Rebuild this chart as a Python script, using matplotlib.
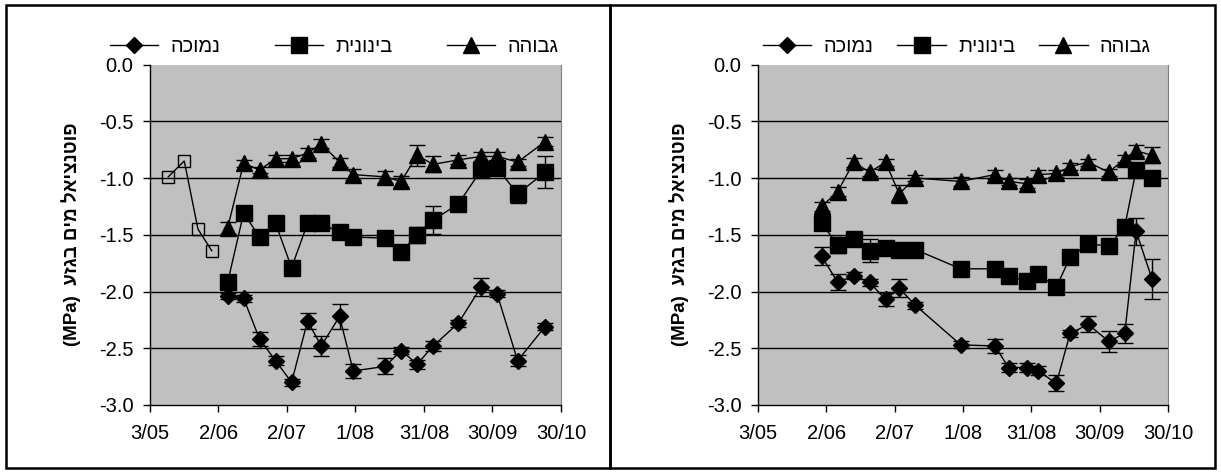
import matplotlib
matplotlib.use('Agg')
import matplotlib.pyplot as plt
from matplotlib.patches import Rectangle
from datetime import datetime

YEAR = 2005

# ---- data: left panel ----
left_dates = ["6/06", "13/06", "20/06", "27/06", "4/07", "11/07", "17/07", "25/07", "31/07",
              "14/08", "21/08", "28/08", "4/09", "15/09", "25/09", "2/10", "11/10", "23/10"]
left_high = [-1.44, -0.87, -0.93, -0.83, -0.83, -0.78, -0.70, -0.86, -0.97,
             -0.99, -1.03, -0.80, -0.88, -0.84, -0.81, -0.81, -0.86, -0.68]
left_high_err = [0.05, 0.03, 0.03, 0.03, 0.03, 0.04, 0.04, 0.04, 0.05,
                 0.05, 0.05, 0.09, 0.07, 0.04, 0.04, 0.04, 0.03, 0.04]
left_mid = [-1.92, -1.31, -1.52, -1.40, -1.79, -1.40, -1.40, -1.48, -1.52,
            -1.53, -1.65, -1.50, -1.37, -1.23, -0.93, -0.91, -1.14, -0.95]
left_mid_err = [0.03, 0.03, 0.03, 0.03, 0.03, 0.03, 0.03, 0.03, 0.03,
                0.03, 0.06, 0.07, 0.12, 0.03, 0.04, 0.04, 0.08, 0.14]
left_low = [-2.04, -2.06, -2.42, -2.61, -2.80, -2.26, -2.48, -2.22, -2.70,
            -2.66, -2.52, -2.64, -2.48, -2.28, -1.96, -2.02, -2.61, -2.31]
left_low_err = [0.03, 0.03, 0.06, 0.04, 0.03, 0.07, 0.09, 0.11, 0.06,
                0.07, 0.03, 0.04, 0.04, 0.03, 0.08, 0.03, 0.05, 0.03]
# early measurements (open squares)
early_dates = ["11/05", "18/05", "24/05", "30/05"]
early_vals = [-0.99, -0.85, -1.45, -1.64]

# ---- data: right panel ----
right_dates = ["31/05", "7/06", "14/06", "21/06", "28/06", "4/07", "11/07", "31/07", "15/08", "21/08",
               "29/08", "3/09", "11/09", "17/09", "25/09", "4/10", "11/10", "16/10", "23/10"]
right_high = [-1.25, -1.12, -0.86, -0.95, -0.86, -1.14, -1.00, -1.03, -0.97, -1.03,
              -1.05, -0.97, -0.96, -0.90, -0.86, -0.95, -0.83, -0.76, -0.80]
right_high_err = [0.04, 0.04, 0.04, 0.03, 0.03, 0.08, 0.03, 0.04, 0.04, 0.03,
                  0.04, 0.04, 0.03, 0.03, 0.03, 0.03, 0.03, 0.05, 0.07]
right_mid = [-1.40, -1.59, -1.54, -1.64, -1.62, -1.63, -1.63, -1.80, -1.80, -1.86,
             -1.91, -1.85, -1.96, -1.70, -1.58, -1.60, -1.43, -0.93, -1.00]
right_mid_err = [0.05, 0.07, 0.05, 0.10, 0.06, 0.05, 0.03, 0.03, 0.04, 0.05,
                 0.03, 0.03, 0.03, 0.03, 0.03, 0.03, 0.03, 0.03, 0.04]
right_low = [-1.69, -1.92, -1.86, -1.92, -2.07, -1.97, -2.12, -2.47, -2.48, -2.67,
             -2.67, -2.70, -2.81, -2.37, -2.29, -2.44, -2.37, -1.47, -1.89]
right_low_err = [0.08, 0.07, 0.03, 0.03, 0.06, 0.08, 0.03, 0.03, 0.06, 0.04,
                 0.04, 0.04, 0.07, 0.03, 0.07, 0.09, 0.08, 0.12, 0.18]

series_names = ["נמוכה", "בינונית", "גבוהה"]   # low, medium, high
x_ticks = ["3/05", "2/06", "2/07", "1/08", "31/08", "30/09", "30/10"]
y_ticks = [0.0, -0.5, -1.0, -1.5, -2.0, -2.5, -3.0]
y_label = "פוטנציאל מים בגזע"

FONT = ['Liberation Sans', 'DejaVu Sans']
plt.rcParams['font.family'] = FONT
plt.rcParams['axes.unicode_minus'] = False


def to_dates(labels):
    return [datetime.strptime(f"{s}/{YEAR}", "%d/%m/%Y") for s in labels]


def visual(s):
    # matplotlib has no bidi support: feed Hebrew in visual order
    return s[::-1]


W, H = 1221, 472
fig = plt.figure(figsize=(W / 100, H / 100), dpi=100)


def px_axes(x0, x1, y0, y1):
    return fig.add_axes([x0 / W, 1 - y1 / H, (x1 - x0) / W, (y1 - y0) / H])


def draw_series(ax, dates, vals, errs, marker, ms):
    cont = ax.errorbar(to_dates(dates), vals, yerr=errs, color='black', lw=1,
                       marker=marker, ms=ms, mfc='black', mec='black',
                       ecolor='black', elinewidth=1, capsize=5.5, capthick=1, zorder=3)
    return cont[0]


def style_axes(ax):
    ax.set_facecolor('#C0C0C0')
    ax.set_ylim(-3.0, 0.0)
    xt = to_dates(x_ticks)
    ax.set_xlim(xt[0], xt[-1])
    ax.set_xticks(xt)
    ax.set_xticklabels(x_ticks)
    ax.set_yticks(y_ticks)
    ax.set_yticklabels([f"{v:.1f}" for v in y_ticks])
    for v in y_ticks[1:-1]:
        ax.axhline(v, color='black', lw=1, zorder=1)
    ax.spines['top'].set_visible(False)
    ax.spines['right'].set_color('#808080')
    ax.spines['left'].set_linewidth(1)
    ax.spines['bottom'].set_linewidth(1)
    ax.tick_params(axis='both', direction='out', length=5, width=1, labelsize=14.5)
    ax.tick_params(axis='y', pad=7)
    ax.tick_params(axis='x', pad=9)
    ax.set_ylabel("(MPa)  " + visual(y_label), fontsize=13.5, fontweight='bold', labelpad=13)


def panel(ax, dates, low, low_e, mid, mid_e, high, high_e, leg_x, colspace):
    style_axes(ax)
    h_low = draw_series(ax, dates, low, low_e, 'D', 8.5)
    h_mid = draw_series(ax, dates, mid, mid_e, 's', 11)
    h_high = draw_series(ax, dates, high, high_e, '^', 11.5)
    ax.legend([h_low, h_mid, h_high], [visual(n) for n in series_names], ncol=3,
              loc='center', bbox_to_anchor=(leg_x, 1.052), frameon=False,
              fontsize=14.5, handlelength=2.4, handletextpad=0.6, columnspacing=colspace,
              borderaxespad=0, borderpad=0)


ax_l = px_axes(150, 561, 64.5, 405)
panel(ax_l, left_dates, left_low, left_low_err, left_mid, left_mid_err,
      left_high, left_high_err, 0.448, 2.7)
ax_l.plot(to_dates(early_dates), early_vals, color='black', lw=1, marker='s', ms=9,
          mfc='none', mec='black', zorder=3)

ax_r = px_axes(758, 1168, 64.5, 405)
panel(ax_r, right_dates, right_low, right_low_err, right_mid, right_mid_err,
      right_high, right_high_err, 0.485, 1.2)

# panel frames
for x0, x1 in [(6, 610), (610, 1215)]:
    fig.add_artist(Rectangle((x0 / W, 1 - 468 / H), (x1 - x0) / W, (468 - 5) / H,
                             transform=fig.transFigure, fill=False, lw=1.8, ec='black'))

fig.savefig("out.png", dpi=100)
